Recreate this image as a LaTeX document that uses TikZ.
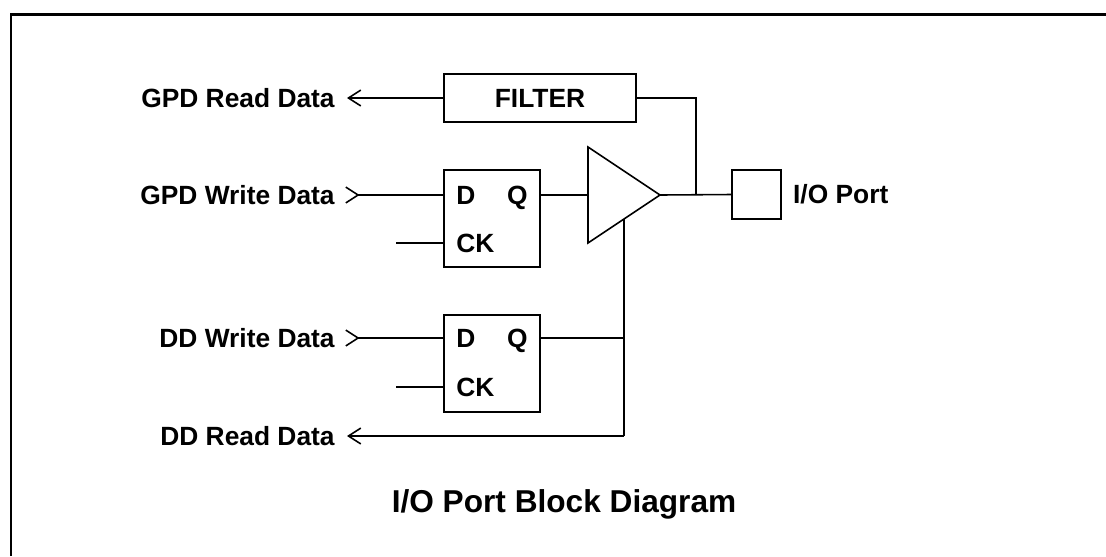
\documentclass[tikz,border=0pt]{standalone}
\usepackage{fontspec}
\setmainfont{Liberation Sans}
\usetikzlibrary{arrows.meta,positioning}
\tikzset{
  wire/.style={line width=0.9pt},
  blk/.style={draw,line width=0.9pt,inner sep=0pt},
  lbl/.style={font=\fontsize{15}{18}\selectfont\bfseries,inner sep=0pt},
  rd/.style={{Straight Barb[length=7pt,width=9pt]}-},
  wr/.style={{Straight Barb[length=7pt,width=9pt,reversed]}-},
}
\begin{document}
\begin{tikzpicture}[x=0.02cm,y=-0.02cm,line join=miter]
  \useasboundingbox (0,0) rectangle (1106,556);
  \draw[line width=1.7pt] (11,556) -- (11,14) -- (1106,14);
  \foreach \x/\y/\z in {347/98/gr,345/195/gw,396/243/ga,345/338/dw,396/387/da,347/436/dr,
    588/147/bt,588/243/bb,660/195/bo,696/195/jn,624/219/be,624/338/jb,624/436/jc}{
      \path (\x,\y) coordinate (\z);
  }
  % blocks
  \node[blk,lbl,minimum width=3.84cm,minimum height=0.96cm] (filter) at (540,98) {FILTER};
  \node[blk,minimum width=1.92cm,minimum height=1.94cm] (ffa) at (492,218.5) {};
  \node[blk,minimum width=1.92cm,minimum height=1.94cm] (ffb) at (492,363.5) {};
  \node[blk,minimum size=0.98cm] (port) at (756.5,194.5) {};
  \foreach \f/\d/\c in {ffa/195/243,ffb/338/387}{
      \node[lbl,anchor=base west] (\f-d) at (456,\d+9.5) {D};
      \node[lbl,anchor=base east] (\f-q) at (528,\d+9.5) {Q};
      \node[lbl,anchor=base west] (\f-ck) at (456,\c+9.5) {CK};
  }
  % labels
  \node[lbl,left=0.24cm of gr] (grl) {GPD Read Data};
  \node[lbl,left=0.2cm of gw] (gwl) {GPD Write Data};
  \node[lbl,left=0.2cm of dw] (dwl) {DD Write Data};
  \node[lbl,left=0.24cm of dr] (drl) {DD Read Data};
  \node[lbl,right=0.22cm of port] (portl) {I/O Port};
  \node[font=\fontsize{18}{22}\selectfont\bfseries,anchor=base] (title) at (564,512) {I/O Port Block Diagram};
  % wires
  \draw[wire,rd] (gr) -- (filter.west);
  \draw[wire,wr] (gw) -- (gw -| ffa.west);
  \draw[wire] (ga) -- (ga -| ffa.west);
  \draw[wire,wr] (dw) -- (dw -| ffb.west);
  \draw[wire] (da) -- (da -| ffb.west);
  \draw[wire] (gw -| ffa.east) -- (gw -| bt);
  \draw[wire] (bt) -- (bo) -- (bb) -- cycle;
  \draw[wire] (bo) -- (port.west);
  \draw[wire] (filter.east) -| (jn);
  \draw[wire] (dw -| ffb.east) -- (jb);
  \draw[wire] (be) -- (jc);
  \draw[wire,rd] (dr) -- (jc);
\end{tikzpicture}
\end{document}
